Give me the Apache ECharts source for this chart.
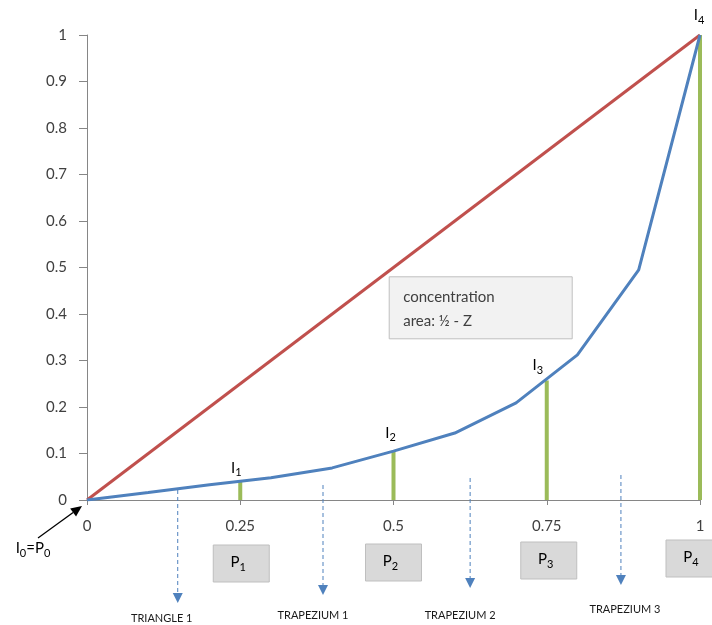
<!DOCTYPE html>
<html><head><meta charset="utf-8">
<script src="https://cdn.jsdelivr.net/npm/echarts@6/dist/echarts.min.js"></script>
<style>html,body{margin:0;padding:0;background:#fff}#c{width:712px;height:625px}</style>
</head><body><div id="c"></div>
<script>
// ---- data ----
const equalityX = [0, 1];
const equalityY = [0, 1];
const lorenzX = [0, 0.1, 0.2, 0.3, 0.4, 0.5, 0.6, 0.7, 0.8, 0.9, 1];
const lorenzY = [0, 0.016, 0.033, 0.048, 0.069, 0.105, 0.144, 0.209, 0.312, 0.495, 1];
const pointX = [0.25, 0.5, 0.75, 1];
const pointY = [0.0405, 0.105, 0.257, 1];
const pointSub = ['1', '2', '3', '4'];
const areaNames = ['TRIANGLE 1', 'TRAPEZIUM 1', 'TRAPEZIUM 2', 'TRAPEZIUM 3'];
const areaArrowX = [0.148, 0.385, 0.625, 0.871];
const conceptText = ['concentration', 'area: \u00bd - Z'];
const originText = ['I', '0', '=P', '0'];

// ---- layout (pixel nudges, not data) ----
const iLabelNudge = [[-4, -3], [-3, -8], [-9, -5], [-1, -9]];
const pBoxNudge = [[1, 45], [0, 44], [2, 42], [-6, 40]];
const arrowTopOff = [10, 15, 22, 25];
const arrowTipOff = [103, 95, 88, 85];
const areaLabelOff = [[-16, 118], [-10, 115], [-10, 115], [4, 109]];

const FONT = 'Lato, "Noto Sans", sans-serif';
const TXT = '#404040';
const chart = echarts.init(document.getElementById('c'), null, {renderer: 'canvas'});

const option = {
  animation: false,
  backgroundColor: '#fff',
  textStyle: {fontFamily: FONT},
  grid: {left: 87, right: 12, top: 35, bottom: 125, containLabel: false, outerBoundsMode: 'none'},
  xAxis: {
    type: 'value', min: 0, max: 1, interval: 0.25,
    axisLine: {show: true, lineStyle: {color: '#868686', width: 1}},
    axisTick: {show: true, length: 5, lineStyle: {color: '#868686'}},
    axisLabel: {fontSize: 15, color: TXT, margin: 19, fontFamily: FONT},
    splitLine: {show: false}
  },
  yAxis: {
    type: 'value', min: 0, max: 1, interval: 0.1,
    axisLine: {show: true, lineStyle: {color: '#868686', width: 1}},
    axisTick: {show: true, length: 8, lineStyle: {color: '#868686'}},
    axisLabel: {fontSize: 15, color: TXT, margin: 20, fontFamily: FONT},
    splitLine: {show: false}
  },
  series: [
    {
      type: 'custom', name: 'segments', z: 1, clip: false,
      data: pointX.map((x, i) => [x, pointY[i]]),
      encode: {x: 0, y: 1},
      renderItem: (params, api) => {
        const top = api.coord([api.value(0), api.value(1)]);
        const base = api.coord([api.value(0), 0]);
        return {type: 'rect', shape: {x: top[0] - 2, y: top[1], width: 4, height: base[1] - top[1]},
                style: {fill: '#9BBB59'}};
      }
    },
    {
      type: 'line', name: 'equality', z: 3, symbol: 'none',
      data: equalityX.map((x, i) => [x, equalityY[i]]),
      lineStyle: {color: '#C0504D', width: 3}
    },
    {
      type: 'line', name: 'lorenz', z: 4, symbol: 'none',
      data: lorenzX.map((x, i) => [x, lorenzY[i]]),
      lineStyle: {color: '#4F81BD', width: 3}
    }
  ]
};
chart.setOption(option);

const px = v => chart.convertToPixel({gridIndex: 0}, v);
const g = [];
const subRich = {
  m: {fontSize: 15, fontFamily: FONT, color: TXT, verticalAlign: 'top', lineHeight: 18},
  s: {fontSize: 11, fontFamily: FONT, color: TXT, verticalAlign: 'bottom', lineHeight: 18}
};

// I labels
pointX.forEach((x, i) => {
  const p = px([x, pointY[i]]);
  g.push({type: 'text', z: 10, x: p[0] + iLabelNudge[i][0], y: p[1] + iLabelNudge[i][1],
    style: {text: '{m|I}{s|' + pointSub[i] + '}', rich: subRich, align: 'center', verticalAlign: 'bottom'}});
});

// P boxes
pointX.forEach((x, i) => {
  const p = px([x, 0]);
  const cx = p[0] + pBoxNudge[i][0], top = p[1] + pBoxNudge[i][1];
  g.push({type: 'rect', z: 10, shape: {x: cx - 28, y: top, width: 56, height: 37},
    style: {fill: '#D9D9D9', stroke: '#BFBFBF', lineWidth: 1}});
  g.push({type: 'text', z: 11, x: cx - 3, y: top + 19,
    style: {text: '{m|P}{s|' + pointSub[i] + '}', rich: subRich, align: 'center', verticalAlign: 'middle'}});
});

// dashed arrows and area labels
areaArrowX.forEach((x, i) => {
  const p = px([x, 0]);
  const tipY = p[1] + arrowTipOff[i];
  g.push({type: 'line', z: 10, shape: {x1: p[0], y1: p[1] - arrowTopOff[i], x2: p[0], y2: tipY - 9},
    style: {stroke: '#4F81BD', lineWidth: 1, lineDash: [4, 3]}});
  g.push({type: 'polygon', z: 10, shape: {points: [[p[0] - 5, tipY - 10], [p[0] + 5, tipY - 10], [p[0], tipY]]},
    style: {fill: '#4F81BD'}});
  g.push({type: 'text', z: 10, x: p[0] + areaLabelOff[i][0], y: p[1] + areaLabelOff[i][1],
    style: {text: areaNames[i], fontSize: 11, fontFamily: FONT, fill: '#1a1a1a', align: 'center', verticalAlign: 'middle'}});
});

// concentration box
(function () {
  const p = px([0.493, 0.48]);
  g.push({type: 'rect', z: 10, shape: {x: p[0], y: p[1], width: 183, height: 62},
    style: {fill: '#F2F2F2', stroke: '#BFBFBF', lineWidth: 1}});
  g.push({type: 'text', z: 11, x: p[0] + 14, y: p[1] + 8,
    style: {text: conceptText.join('\n'), fontSize: 15, lineHeight: 24, fontFamily: FONT, fill: TXT, align: 'left', verticalAlign: 'top'}});
})();

// origin label + arrow
(function () {
  const o = px([0, 0]);
  const tip = [o[0] - 5, o[1] + 6], tail = [o[0] - 49, o[1] + 38];
  const dx = tip[0] - tail[0], dy = tip[1] - tail[1], L = Math.hypot(dx, dy);
  const u = [dx / L, dy / L], n = [-u[1], u[0]];
  const b = [tip[0] - 11 * u[0], tip[1] - 11 * u[1]];
  g.push({type: 'line', z: 10, shape: {x1: tail[0], y1: tail[1], x2: b[0], y2: b[1]},
    style: {stroke: '#000', lineWidth: 1.3}});
  g.push({type: 'polygon', z: 10, shape: {points: [tip, [b[0] + 5 * n[0], b[1] + 5 * n[1]], [b[0] - 5 * n[0], b[1] - 5 * n[1]]]},
    style: {fill: '#000'}});
  g.push({type: 'text', z: 10, x: o[0] - 54, y: o[1] + 50,
    style: {text: '{m|' + originText[0] + '}{s|' + originText[1] + '}{m|' + originText[2] + '}{s|' + originText[3] + '}',
      rich: subRich, align: 'center', verticalAlign: 'middle'}});
})();

chart.setOption({graphic: g});
</script></body></html>
